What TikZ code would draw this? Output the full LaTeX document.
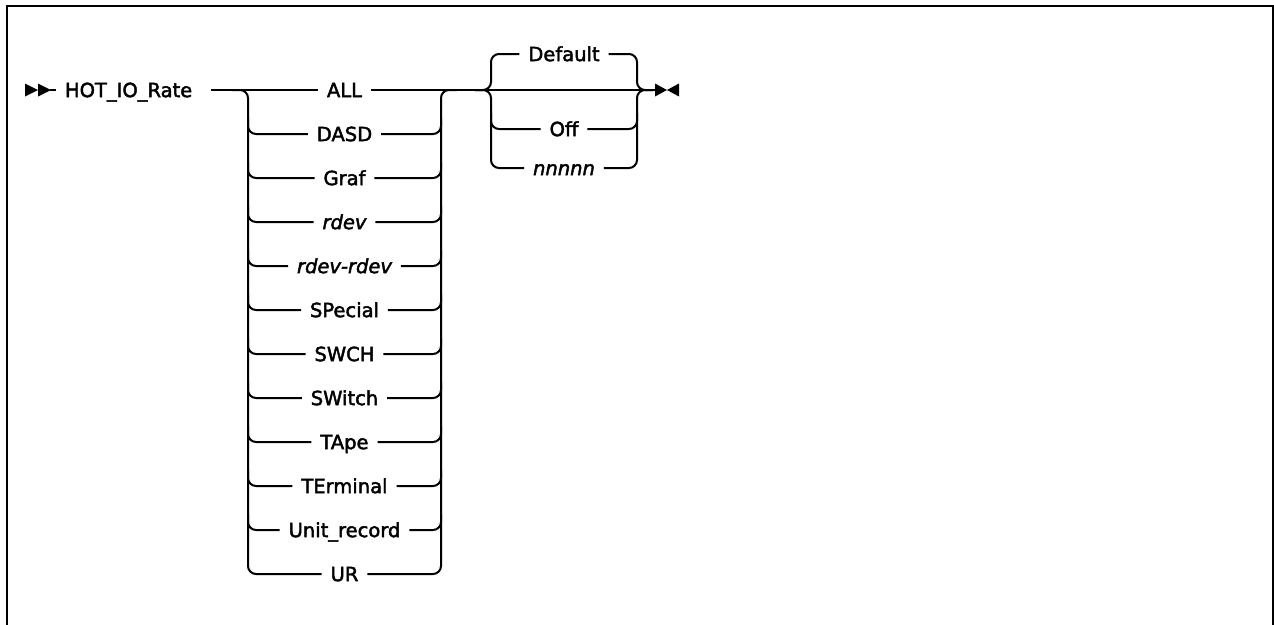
\documentclass[tikz,border=0pt]{standalone}
\usepackage{fontspec}
\newfontfamily\lbfont[FakeBold=2.2]{DejaVu Sans}
\begin{document}
\begin{tikzpicture}[x=1pt,y=-1pt,line width=2pt,
  lbl/.style={inner xsep=8pt,inner ysep=0pt,text height=14.2pt,text depth=0pt,font=\lbfont\fontsize{19.5}{22}\selectfont},
  rc/.style={rounded corners=8pt},
  tip/.style={fill=black,draw=none}]
\useasboundingbox (0,0) rectangle (1274,624);
% frame
\draw[line width=2.2pt] (7,640) -- (7,6) -- (1273,6) -- (1273,640);
% start symbol
\fill[tip] (25,83.5) -- (38,90) -- (25,96.5) -- cycle;
\fill[tip] (38,83.5) -- (51,90) -- (38,96.5) -- cycle;
\coordinate (s) at (50,90);
\node[lbl,anchor=west] (hot) at (56,90) {HOT\_IO\_Rate};
\draw (s) -- (hot.west);
% first group
\node[lbl] (n0) at (344.5,90) {ALL};
\node[lbl] (n1) at (344.5,134) {DASD};
\node[lbl] (n2) at (344.5,178) {Graf};
\node[lbl] (n3) at (344.5,222) {\itshape rdev};
\node[lbl] (n4) at (344.5,266) {\itshape rdev-rdev};
\node[lbl] (n5) at (344.5,310) {SPecial};
\node[lbl] (n6) at (344.5,354) {SWCH};
\node[lbl] (n7) at (344.5,398) {SWitch};
\node[lbl] (n8) at (344.5,442) {TApe};
\node[lbl] (n9) at (344.5,486) {TErminal};
\node[lbl] (n10) at (344.5,530) {Unit\_record};
\node[lbl] (n11) at (344.5,574) {UR};
\draw ([xshift=10pt]hot.east) -- (n0.west);
\coordinate (lt) at (232,90);
\draw[rc] (lt) -| (248,574) -- (n11.west);
\foreach \i/\y in {1/134,2/178,3/222,4/266,5/310,6/354,7/398,8/442,9/486,10/530}{
  \draw[rc] (248,\y-16) |- (n\i.west);
  \draw[rc] (n\i.east) -| (441,\y-16);
}
\coordinate (rt) at (457,90);
\draw[rc] (n11.east) -| (441,90) -- (rt);
\coordinate (endc) at (656,90);
\draw (n0.east) -- (endc);
% second group
\node[lbl] (d) at (564,54) {Default};
\node[lbl] (off) at (564,129) {Off};
\node[lbl] (nn) at (564,168) {\itshape nnnnn};
\coordinate (gl) at (475,90);
\coordinate (gr) at (653,90);
\draw[rc] (gl) -| (491,54) -- (d.west);
\draw[rc] (gl) -| (491,168) -- (nn.west);
\draw[rc] (491,113) |- (off.west);
\draw[rc] (d.east) -| (637,90) -- (gr);
\draw[rc] (nn.east) -| (637,90) -- (gr);
\draw[rc] (off.east) -| (637,113);
% end symbol
\fill[tip] (655,83.5) -- (667,90) -- (655,96.5) -- cycle;
\fill[tip] (679,83.5) -- (667,90) -- (679,96.5) -- cycle;
\end{tikzpicture}
\end{document}
